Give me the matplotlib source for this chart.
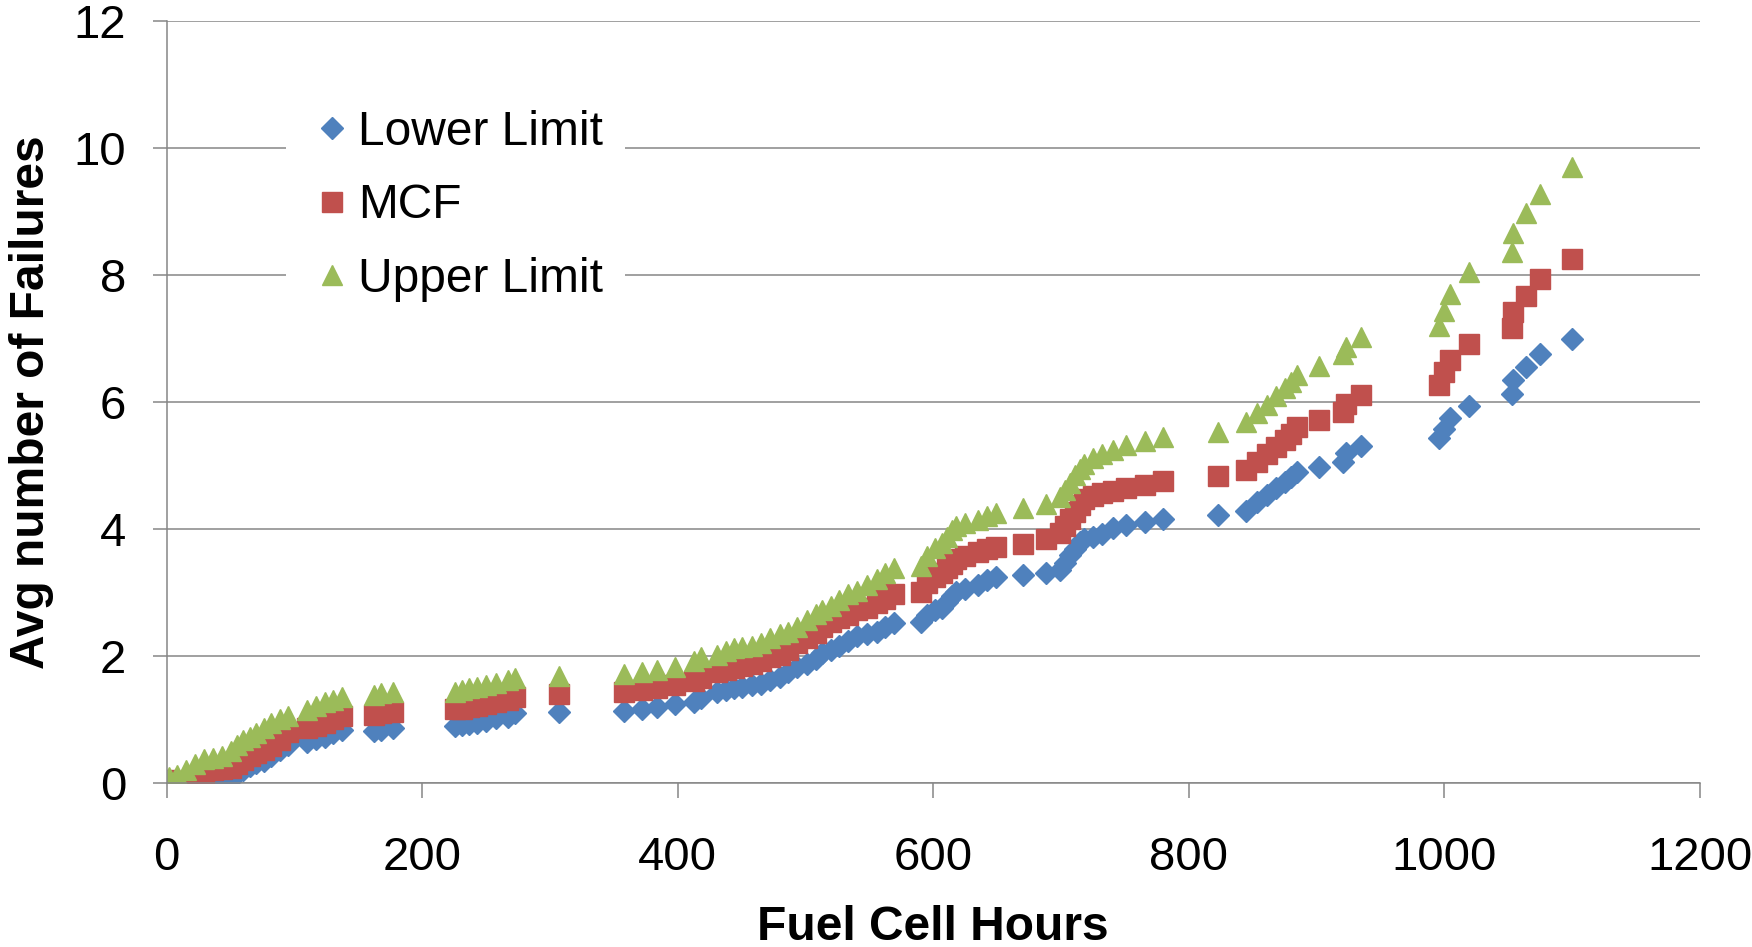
import matplotlib
matplotlib.use("Agg")
import matplotlib.pyplot as plt

plt.rcParams['font.family'] = ['Liberation Sans', 'DejaVu Sans']

# fuel cell hours (shared by the three series)
hours = [2, 8, 15, 22, 29, 36, 43, 50, 55, 60, 65, 70, 76, 82, 89, 95,
         110, 117, 124, 130, 137, 162, 168, 177,
         226, 231, 237, 243, 250, 258, 267, 273, 307,
         358, 372, 384, 398, 413, 418, 431, 438, 444, 450, 458, 465, 472, 480, 486, 493,
         501, 508, 513, 520, 526, 533, 540, 548, 556, 562, 569,
         590, 595, 601, 607, 611, 615, 618, 625, 635, 642, 649, 670, 688,
         699, 703, 707, 711, 715, 718, 725, 732, 741, 751, 766, 780,
         823, 845, 853, 861, 868, 875, 880, 885, 902, 921, 923, 935,
         996, 1000, 1004, 1019, 1053, 1054, 1064, 1075, 1100]

lower_limit = [0.0, 0.0, 0.02, 0.03, 0.05, 0.08, 0.1, 0.12, 0.14, 0.2, 0.26, 0.31, 0.35, 0.42, 0.52, 0.6,
               0.65, 0.69, 0.73, 0.78, 0.83, 0.82, 0.84, 0.86,
               0.89, 0.91, 0.93, 0.95, 0.98, 1.02, 1.04, 1.1, 1.11,
               1.13, 1.16, 1.2, 1.24, 1.28, 1.34, 1.44, 1.46, 1.49, 1.51, 1.54, 1.56, 1.62, 1.67, 1.75, 1.83,
               1.88, 1.96, 2.04, 2.09, 2.15, 2.23, 2.31, 2.34, 2.38, 2.45, 2.52,
               2.54, 2.64, 2.72, 2.76, 2.85, 2.94, 3.01, 3.06, 3.12, 3.19, 3.24, 3.28, 3.31,
               3.36, 3.47, 3.59, 3.69, 3.79, 3.85, 3.88, 3.92, 4.02, 4.06, 4.11, 4.15,
               4.22, 4.28, 4.42, 4.54, 4.64, 4.74, 4.82, 4.9, 4.98, 5.06, 5.2, 5.3,
               5.43, 5.58, 5.75, 5.93, 6.13, 6.35, 6.55, 6.75, 7.0]

mcf = [0.05, 0.02, 0.03, 0.08, 0.15, 0.2, 0.22, 0.24, 0.3, 0.36, 0.42, 0.47, 0.52, 0.58, 0.68, 0.8,
       0.86, 0.9, 0.95, 1.0, 1.06, 1.07, 1.1, 1.12,
       1.16, 1.17, 1.19, 1.21, 1.24, 1.28, 1.31, 1.36, 1.4,
       1.43, 1.46, 1.49, 1.54, 1.6, 1.66, 1.75, 1.78, 1.81, 1.84, 1.88, 1.92, 1.98, 2.02, 2.1, 2.2,
       2.28, 2.36, 2.45, 2.53, 2.6, 2.65, 2.72, 2.76, 2.84, 2.9, 2.97,
       3.0, 3.15, 3.24, 3.3, 3.38, 3.45, 3.53, 3.58, 3.64, 3.69, 3.72, 3.77, 3.84,
       3.93, 4.05, 4.15, 4.26, 4.38, 4.47, 4.52, 4.57, 4.6, 4.64, 4.7, 4.76,
       4.83, 4.93, 5.06, 5.18, 5.29, 5.4, 5.5, 5.6, 5.72, 5.84, 5.97, 6.11,
       6.27, 6.48, 6.66, 6.92, 7.16, 7.42, 7.67, 7.93, 8.25]

upper_limit = [0.1, 0.12, 0.2, 0.3, 0.38, 0.4, 0.42, 0.5, 0.6, 0.68, 0.72, 0.78, 0.86, 0.94, 1.0, 1.06,
               1.15, 1.22, 1.27, 1.31, 1.36, 1.38, 1.41, 1.43,
               1.44, 1.47, 1.49, 1.51, 1.54, 1.58, 1.62, 1.66, 1.68,
               1.72, 1.75, 1.78, 1.82, 1.92, 1.98, 2.01, 2.08, 2.12, 2.14, 2.15, 2.2, 2.28, 2.34, 2.38, 2.45,
               2.56, 2.66, 2.72, 2.78, 2.88, 2.98, 3.02, 3.12, 3.22, 3.3, 3.38,
               3.42, 3.58, 3.7, 3.78, 3.88, 3.98, 4.05, 4.09, 4.14, 4.2, 4.25, 4.33, 4.4,
               4.5, 4.62, 4.72, 4.85, 4.95, 5.03, 5.12, 5.18, 5.24, 5.32, 5.38, 5.45,
               5.53, 5.68, 5.82, 5.95, 6.1, 6.22, 6.32, 6.42, 6.56, 6.76, 6.87, 7.02,
               7.2, 7.43, 7.7, 8.04, 8.36, 8.66, 8.97, 9.27, 9.7]

fig = plt.figure(figsize=(17.52, 9.47), dpi=100)
ax = fig.add_axes([0.0951, 0.1732, 0.8752, 0.8046])

ax.plot(hours, lower_limit, linestyle='none', marker='D', markersize=11,
        color='#4F81BD', label='Lower Limit')
ax.plot(hours, mcf, linestyle='none', marker='s', markersize=15,
        color='#C0504D', label='MCF')
ax.plot(hours, upper_limit, linestyle='none', marker='^', markersize=15,
        color='#9BBB59', label='Upper Limit')

ax.set_xlim(0, 1200)
ax.set_ylim(0, 12)
ax.set_xticks(range(0, 1201, 200))
ax.set_yticks(range(0, 13, 2))

grid_col = '#868686'
ax.yaxis.grid(True, color=grid_col, linewidth=1.1)
ax.set_axisbelow(True)
for side in ['top', 'right']:
    ax.spines[side].set_visible(False)
for side in ['left', 'bottom']:
    ax.spines[side].set_color(grid_col)
    ax.spines[side].set_linewidth(1.1)

ax.tick_params(axis='x', direction='out', length=11, width=1.1, color=grid_col,
               labelsize=34, pad=27)
ax.tick_params(axis='y', direction='out', length=10, width=1.1, color=grid_col,
               labelsize=34, pad=19)

ax.set_xlabel('Fuel Cell Hours', fontsize=34.5, fontweight='bold', labelpad=18)
ax.set_ylabel('Avg number of Failures', fontsize=34.5, fontweight='bold', labelpad=14)

leg = ax.legend(loc='upper left', bbox_to_anchor=(0.078, 0.912), fontsize=34.5,
                frameon=True, facecolor='white', edgecolor='none', framealpha=1,
                handletextpad=0.05, handlelength=1.0, labelspacing=0.6,
                borderpad=0.45, borderaxespad=0, fancybox=False)

fig.savefig('out.png', dpi=100)
